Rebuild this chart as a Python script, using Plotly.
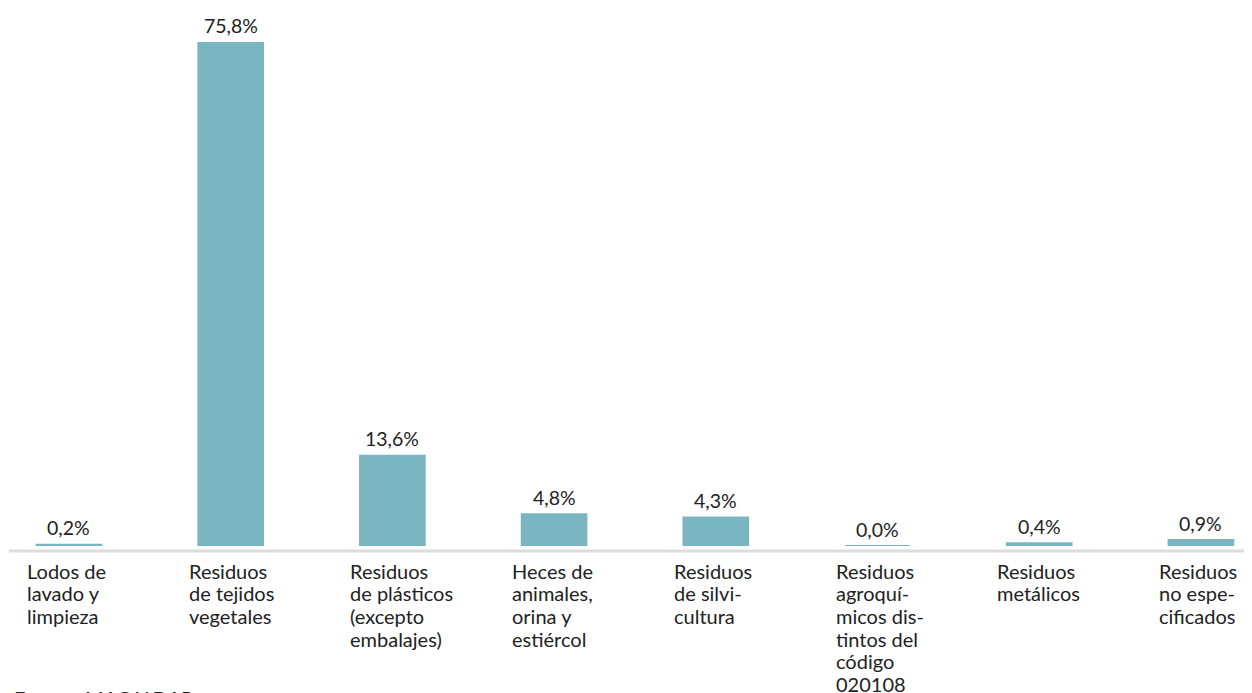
import plotly.graph_objects as go

categorias = [
    ["Lodos de", "lavado y", "limpieza"],
    ["Residuos", "de tejidos", "vegetales"],
    ["Residuos", "de plásticos", "(excepto", "embalajes)"],
    ["Heces de", "animales,", "orina y", "estiércol"],
    ["Residuos", "de silvi-", "cultura"],
    ["Residuos", "agroquí-", "micos dis-", "tintos del", "código", "020108"],
    ["Residuos", "metálicos"],
    ["Residuos", "no espe-", "cificados"],
]
porcentajes = [0.2, 75.8, 13.6, 4.8, 4.3, 0.0, 0.4, 0.9]
fuente = "Fuente: MAG Y DAP"

COLOR = "#7ab5c2"
TXT = "#222222"
FONT = "Lato, 'Source Sans Pro', 'Noto Sans', sans-serif"

x = list(range(len(porcentajes)))

fig = go.Figure()
fig.add_trace(go.Bar(
    x=x, y=porcentajes,
    marker=dict(color=COLOR, line=dict(color=COLOR, width=2)),
    width=0.40,
    cliponaxis=False,
    hoverinfo="skip",
))

# etiquetas de valor sobre cada barra
for i, v in enumerate(porcentajes):
    fig.add_annotation(
        x=i, y=v, xref="x", yref="y",
        text=f"{v:.1f}".replace(".", ",") + "%",
        showarrow=False, xanchor="center", yanchor="middle",
        yshift=17,
        font=dict(size=19.5, color=TXT, family=FONT),
    )

# etiquetas de categoria alineadas a la izquierda, una linea por anotacion
for i, lineas in enumerate(categorias):
    for k, linea in enumerate(lineas):
        fig.add_annotation(
            x=i, y=0, xref="x", yref="y",
            text=linea, showarrow=False,
            xanchor="left", yanchor="middle", align="left",
            xshift=-44, yshift=-24.5 - 22.7 * k,
            font=dict(size=20, color=TXT, family=FONT),
        )

fig.add_annotation(
    x=0, y=0, xref="paper", yref="y",
    text=fuente, showarrow=False,
    xanchor="left", yanchor="middle", align="left",
    xshift=3, yshift=-152,
    font=dict(size=20, color=TXT, family=FONT),
)

# linea base gris
fig.add_shape(
    type="line", xref="paper", yref="paper",
    x0=0, x1=1, y0=-5 / 538, y1=-5 / 538,
    line=dict(color="#dddddd", width=3),
)

fig.update_layout(
    width=1244, height=685,
    margin=dict(l=1, r=0, t=0, b=147),
    plot_bgcolor="white", paper_bgcolor="white",
    showlegend=False,
    font=dict(family=FONT, size=20, color=TXT),
    xaxis=dict(range=[-0.371, 7.316], showticklabels=False, showgrid=False,
               zeroline=False, showline=False, fixedrange=True),
    yaxis=dict(range=[0, 81.07], showticklabels=False, showgrid=False,
               zeroline=False, showline=False, fixedrange=True),
)

fig.write_html("out.html")
